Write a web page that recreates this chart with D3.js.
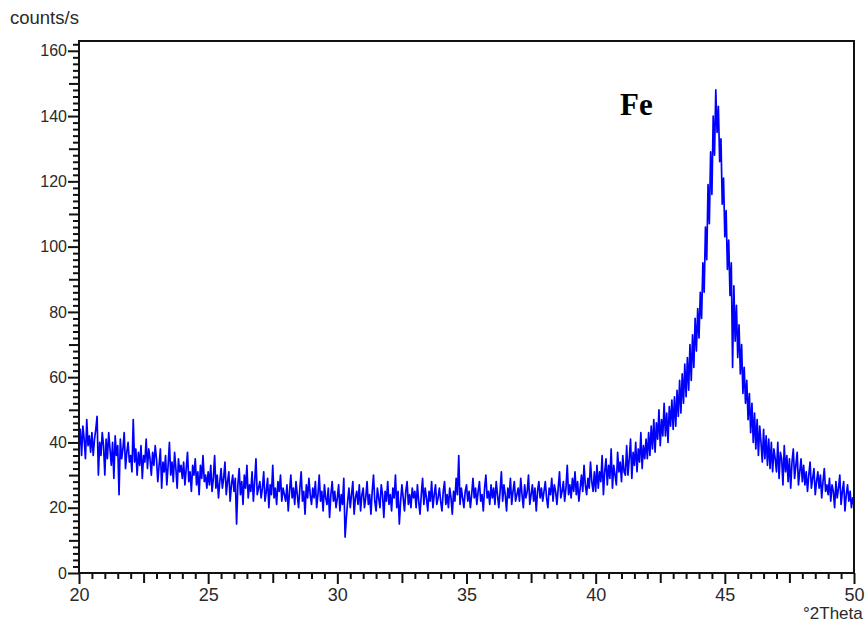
<!DOCTYPE html>
<html>
<head>
<meta charset="utf-8">
<script src="https://cdn.jsdelivr.net/npm/d3@7"></script>
<style>
  body { margin: 0; background: #fff; }
  svg { display: block; }
</style>
</head>
<body>
<script>
/*** data ***/
// scan from 20 to 50 °2Theta, one reading every 0.05°
const thetaStart = 20;
const thetaStep = 0.05;
const counts = [
  // 20
  38, 44, 36, 45, 41, 35, 47, 39, 42, 37, 43, 36, 41, 44, 48, 30, 40, 36, 43, 39,
  // 21
  30, 41, 35, 43, 38, 33, 40, 29, 42, 36, 39, 24, 41, 35, 38, 43, 32, 37, 40, 34,
  // 22
  36, 31, 47, 34, 38, 30, 37, 33, 39, 29, 36, 34, 41, 32, 38, 35, 30, 37, 33, 39,
  // 23
  35, 28, 33, 38, 26, 34, 31, 36, 27, 33, 40, 30, 34, 28, 37, 32, 26, 35, 31, 33,
  // 24
  29, 34, 27, 32, 37, 28, 31, 25, 33, 30, 35, 27, 31, 24, 33, 29, 36, 28, 30, 26,
  // 25
  31, 27, 33, 25, 29, 36, 26, 30, 23, 28, 32, 26, 29, 34, 24, 28, 31, 22, 27, 30,
  // 26
  25, 29, 15, 27, 32, 24, 28, 21, 30, 26, 33, 23, 27, 25, 31, 22, 28, 35, 24, 26,
  // 27
  28, 23, 26, 31, 22, 25, 29, 20, 27, 24, 33, 23, 26, 21, 28, 25, 30, 22, 26, 24,
  // 28
  22, 27, 19, 25, 30, 23, 26, 21, 28, 24, 20, 26, 31, 22, 25, 18, 27, 23, 29, 24,
  // 29
  21, 26, 23, 28, 20, 24, 30, 22, 25, 19, 27, 23, 21, 26, 17, 24, 28, 22, 25, 20,
  // 30
  23, 27, 19, 24, 21, 29, 11, 17, 22, 26, 20, 24, 28, 18, 23, 25, 21, 27, 19, 24,
  // 31
  26, 20, 23, 28, 21, 24, 18, 25, 30, 22, 19, 26, 23, 20, 27, 24, 17, 25, 22, 28,
  // 32
  21, 24, 19, 26, 23, 30, 20, 25, 15, 22, 27, 23, 19, 25, 28, 21, 24, 20, 26, 23,
  // 33
  25, 20, 27, 22, 18, 24, 29, 21, 26, 23, 19, 25, 22, 28, 20, 24, 27, 21, 23, 26,
  // 34
  22, 19, 25, 28, 21, 24, 20, 26, 23, 18, 25, 22, 29, 24, 36, 21, 26, 23, 20, 25,
  // 35
  27, 22, 25, 20, 24, 29, 23, 26, 21, 25, 28, 22, 24, 19, 26, 30, 23, 25, 21, 27,
  // 36
  23, 26, 21, 28, 24, 20, 25, 31, 22, 27, 24, 19, 26, 23, 29, 21, 25, 28, 22, 24,
  // 37
  26, 22, 29, 24, 20, 27, 23, 25, 30, 21, 24, 27, 22, 26, 19, 25, 28, 23, 26, 22,
  // 38
  25, 28, 23, 20, 26, 24, 29, 22, 27, 25, 21, 26, 31, 23, 25, 28, 22, 26, 33, 24,
  // 39
  27, 23, 29, 25, 31, 24, 28, 22, 26, 30, 25, 33, 27, 24, 29, 26, 34, 28, 25, 31,
  // 40
  25, 33, 26, 31, 28, 36, 24, 31, 35, 27, 33, 29, 38, 26, 33, 30, 27, 37, 31, 34,
  // 41
  28, 36, 31, 30, 39, 30, 35, 41, 29, 37, 33, 40, 31, 38, 34, 43, 32, 39, 35, 41,
  // 42
  35, 43, 36, 45, 38, 47, 37, 46, 41, 50, 39, 47, 42, 52, 42, 49, 40, 51, 45, 53,
  // 43
  44, 54, 45, 56, 48, 59, 49, 61, 52, 64, 54, 66, 56, 70, 59, 73, 63, 78, 68, 81,
  // 44
  72, 86, 78, 95, 86, 106, 96, 119, 107, 129, 116, 140, 128, 148, 135, 143, 126, 133, 113, 121,
  // 45
  103, 111, 93, 102, 85, 95, 63, 88, 71, 82, 66, 76, 61, 70, 55, 63, 52, 59, 47, 55,
  // 46
  43, 52, 40, 49, 38, 47, 36, 45, 40, 34, 44, 35, 42, 33, 41, 32, 40, 31, 38, 35,
  // 47
  31, 40, 29, 37, 35, 27, 39, 31, 36, 28, 35, 26, 34, 38, 29, 33, 37, 27, 31, 35,
  // 48
  28, 33, 27, 31, 25, 30, 34, 26, 29, 32, 24, 28, 31, 26, 30, 23, 28, 32, 25, 27,
  // 49
  24, 29, 22, 27, 25, 20, 28, 23, 26, 30, 21, 25, 28, 19, 24, 27, 22, 25, 20, 23,
  // 50
  21
];

const xTicks = [20, 25, 30, 35, 40, 45, 50];
const yTicks = [0, 20, 40, 60, 80, 100, 120, 140, 160];
const yLabel = "counts/s";
const xLabel = "°2Theta";
const peakLabel = "Fe";

/*** layout ***/
const width = 865, height = 623;
const plot = { left: 79, right: 854, top: 41, bottom: 573 };

const svg = d3.select("body").append("svg")
  .attr("width", width)
  .attr("height", height);

const x = d3.scaleLinear().domain([20, 50]).range([plot.left, plot.right]);
const y = d3.scaleLinear().domain([0, 163]).range([plot.bottom, plot.top]);

// minor / medium ticks (x every 0.5 and 2.5, y every 2 and 10)
const xMinor = d3.range(20, 50.01, 0.5).filter(v => v % 2.5 !== 0);
const xMid = d3.range(22.5, 50, 5);
const yMinor = d3.range(0, 163, 2).filter(v => v % 10 !== 0);
const yMid = d3.range(10, 163, 20);

const tickFont = "'Liberation Sans', Arial, sans-serif";

function styleAxis(g) {
  g.select(".domain").remove();
  g.selectAll("line").attr("stroke", "#111").attr("stroke-width", 2);
  g.selectAll("text").attr("fill", "#2a2a2a").attr("font-family", tickFont);
}

// x axis
svg.append("g")
  .attr("transform", `translate(0,${plot.bottom})`)
  .call(d3.axisBottom(x).tickValues(xMinor).tickSize(6).tickFormat(""))
  .call(styleAxis);
svg.append("g")
  .attr("transform", `translate(0,${plot.bottom})`)
  .call(d3.axisBottom(x).tickValues(xMid).tickSize(10).tickFormat(""))
  .call(styleAxis);
svg.append("g")
  .attr("transform", `translate(0,${plot.bottom})`)
  .call(d3.axisBottom(x).tickValues(xTicks).tickSize(11).tickPadding(4).tickFormat(d3.format("d")))
  .call(styleAxis)
  .call(g => g.selectAll("text").attr("font-size", 18));

// y axis
svg.append("g")
  .attr("transform", `translate(${plot.left},0)`)
  .call(d3.axisLeft(y).tickValues(yMinor).tickSize(6).tickFormat(""))
  .call(styleAxis);
svg.append("g")
  .attr("transform", `translate(${plot.left},0)`)
  .call(d3.axisLeft(y).tickValues(yMid).tickSize(10).tickFormat(""))
  .call(styleAxis);
svg.append("g")
  .attr("transform", `translate(${plot.left},0)`)
  .call(d3.axisLeft(y).tickValues(yTicks).tickSize(11).tickPadding(1).tickFormat(d3.format("d")))
  .call(styleAxis)
  .call(g => g.selectAll("text").attr("font-size", 16));

// clip for the trace
svg.append("clipPath").attr("id", "plot")
  .append("rect")
  .attr("x", plot.left).attr("y", plot.top)
  .attr("width", plot.right - plot.left).attr("height", plot.bottom - plot.top);

const line = d3.line()
  .x((d, i) => x(thetaStart + i * thetaStep))
  .y(d => y(d));

svg.append("path")
  .datum(counts)
  .attr("clip-path", "url(#plot)")
  .attr("fill", "none")
  .attr("stroke", "#0000ff")
  .attr("stroke-width", 1.7)
  .attr("stroke-linejoin", "round")
  .attr("d", line);

// frame
svg.append("rect")
  .attr("x", plot.left).attr("y", plot.top)
  .attr("width", plot.right - plot.left).attr("height", plot.bottom - plot.top)
  .attr("fill", "none")
  .attr("stroke", "#111")
  .attr("stroke-width", 2);

// texts
svg.append("text")
  .attr("x", 10).attr("y", 24)
  .attr("font-family", tickFont)
  .attr("font-size", 18.5)
  .attr("fill", "#2a2a2a")
  .text(yLabel);

svg.append("text")
  .attr("x", 803).attr("y", 619)
  .attr("font-family", tickFont)
  .attr("font-size", 17)
  .attr("fill", "#2a2a2a")
  .text(xLabel);

svg.append("text")
  .attr("x", 620).attr("y", 115)
  .attr("font-family", "'Liberation Serif', 'DejaVu Serif', serif")
  .attr("font-weight", "bold")
  .attr("font-size", 31)
  .attr("fill", "#000")
  .text(peakLabel);
</script>
</body>
</html>
